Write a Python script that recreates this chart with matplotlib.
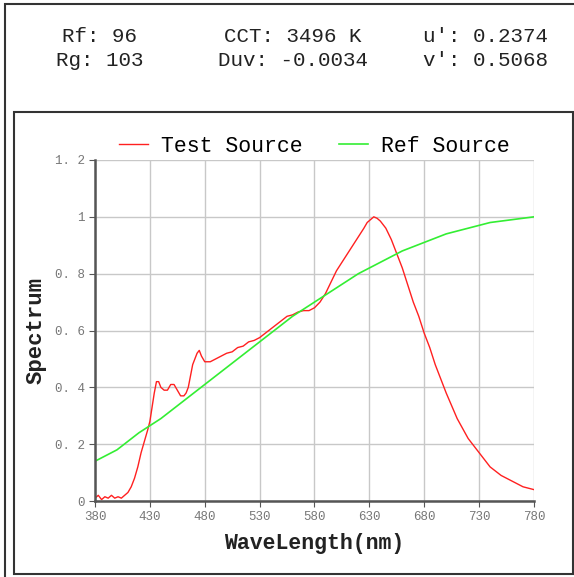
import matplotlib.pyplot as plt
from matplotlib.patches import Rectangle

# test source spectrum
test_wl = [380, 383, 386, 389, 392, 395, 398, 401, 404, 407, 410, 413, 416, 419, 422, 425,
           428, 430, 432, 434, 436, 438, 440, 443, 446, 449, 452, 455, 458, 461, 463, 465,
           467, 469, 471, 473, 475, 477, 480, 485, 490, 495, 500, 505, 510, 515, 520, 525,
           530, 535, 540, 545, 550, 555, 560, 565, 570, 575, 580, 585, 590, 595, 600, 605,
           610, 615, 620, 625, 628, 631, 634, 637, 640, 645, 650, 655, 660, 665, 670, 675,
           680, 685, 690, 695, 700, 710, 720, 730, 740, 750, 760, 770, 780]
test_val = [0.01, 0.02, 0.005, 0.015, 0.01, 0.02, 0.01, 0.015, 0.01, 0.02, 0.03, 0.05, 0.08, 0.12, 0.17, 0.21,
            0.25, 0.28, 0.33, 0.38, 0.42, 0.42, 0.40, 0.39, 0.39, 0.41, 0.41, 0.39, 0.37, 0.37, 0.38, 0.40,
            0.44, 0.48, 0.50, 0.52, 0.53, 0.51, 0.49, 0.49, 0.50, 0.51, 0.52, 0.525, 0.54, 0.545, 0.56, 0.565,
            0.575, 0.59, 0.605, 0.62, 0.635, 0.65, 0.655, 0.665, 0.67, 0.67, 0.68, 0.70, 0.73, 0.77, 0.81, 0.84,
            0.87, 0.90, 0.93, 0.96, 0.98, 0.99, 1.0, 0.995, 0.985, 0.96, 0.92, 0.87, 0.82, 0.76, 0.70, 0.65,
            0.59, 0.54, 0.48, 0.43, 0.38, 0.29, 0.22, 0.17, 0.12, 0.09, 0.07, 0.05, 0.04]

# reference source spectrum
ref_wl = [380, 400, 420, 440, 460, 480, 500, 520, 540, 560, 580, 600, 620, 640, 660, 680,
          700, 720, 740, 760, 780]
ref_val = [0.14, 0.18, 0.24, 0.29, 0.35, 0.41, 0.47, 0.53, 0.59, 0.65, 0.70, 0.75, 0.80, 0.84, 0.88, 0.91,
           0.94, 0.96, 0.98, 0.99, 1.0]

x_ticks = [380, 430, 480, 530, 580, 630, 680, 730, 780]
y_ticks = [0, 0.2, 0.4, 0.6, 0.8, 1, 1.2]
y_tick_labels = ["0", "0. 2", "0. 4", "0. 6", "0. 8", "1", "1. 2"]

header = [("Rf: 96", "Rg: 103"), ("CCT: 3496 K", "Duv: -0.0034"), ("u': 0.2374", "v': 0.5068")]

mono = "Liberation Mono"
W, H = 574, 577

fig = plt.figure(figsize=(5.74, 5.77), dpi=100)

# frames
fig.add_artist(Rectangle((5 / W, -0.1), 1.0, 1 - 4 / H + 0.1, transform=fig.transFigure,
                         fill=False, edgecolor="#333333", linewidth=1.5))
fig.add_artist(Rectangle((14 / W, 1 - 574 / H), (573 - 14) / W, (574 - 112) / H, transform=fig.transFigure,
                         fill=False, edgecolor="#333333", linewidth=1.5))

# header text
centers = [100, 293, 485]
for (a, b), cx in zip(header, centers):
    fig.text(cx / W, 1 - 37 / H, a, ha="center", va="center", family=mono, fontsize=15, color="#222222")
    fig.text(cx / W, 1 - 60 / H, b, ha="center", va="center", family=mono, fontsize=15, color="#222222")

ax = fig.add_axes([95 / W, 1 - 501 / H, (534 - 95) / W, (501 - 160) / H])
ax.plot(test_wl, test_val, color="#ff2020", linewidth=1.0, label="Test Source")
ax.plot(ref_wl, ref_val, color="#33ee33", linewidth=1.2, label="Ref Source")

ax.set_xlim(380, 780)
ax.set_ylim(0, 1.2)
ax.set_xticks(x_ticks)
ax.set_xticklabels([str(t) for t in x_ticks])
ax.set_yticks(y_ticks)
ax.set_yticklabels(y_tick_labels)
ax.grid(True, color="#c8c8c8", linewidth=1.0)
ax.set_axisbelow(True)
for s in ["top", "right"]:
    ax.spines[s].set_visible(False)
for s in ["left", "bottom"]:
    ax.spines[s].set_color("#555555")
    ax.spines[s].set_linewidth(1.8)
ax.tick_params(axis="both", length=4, color="#555555", labelcolor="#777777", labelsize=9)
for lab in ax.get_xticklabels() + ax.get_yticklabels():
    lab.set_family(mono)

ax.set_xlabel("WaveLength(nm)", family=mono, fontsize=15.5, fontweight="bold", color="#222222", labelpad=7)
ax.set_ylabel("Spectrum", family=mono, fontsize=16, fontweight="bold", color="#222222", labelpad=6)

leg = ax.legend(loc="lower center", bbox_to_anchor=(0.5, 0.985), ncol=2, frameon=False,
                prop={"family": mono, "size": 15.5}, handlelength=1.35, handletextpad=0.6,
                columnspacing=1.7, borderaxespad=0)

fig.savefig("out.png", dpi=100)
